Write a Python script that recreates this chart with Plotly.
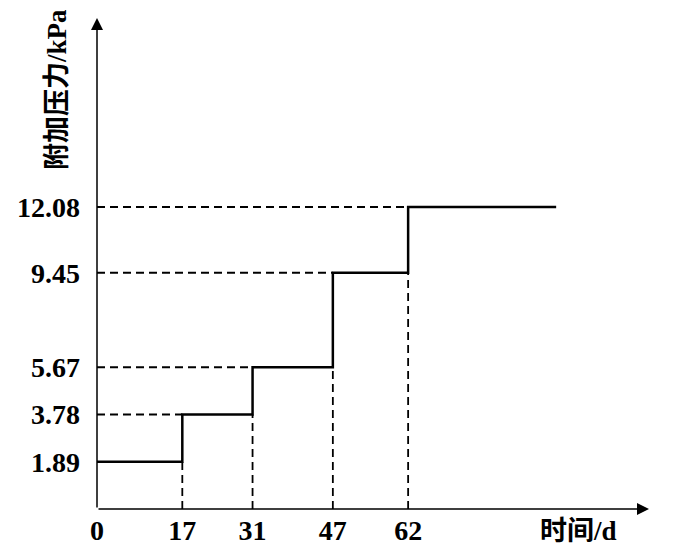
import plotly.graph_objects as go

# données
jours = [0, 17, 31, 47, 62, 91.5]
pression = [1.89, 3.78, 5.67, 9.45, 12.08, 12.08]
x_ticks = [0, 17, 31, 47, 62]
y_ticks = [1.89, 3.78, 5.67, 9.45, 12.08]

X_MAX = 110
Y_MAX = 19.64
police = "Liberation Serif, Noto Sans CJK SC, serif"
W, H = 682, 551
OFF = 8  # marge par défaut du <body> dans la page html
L, R, T, B = 97 - OFF, 33 + OFF, 18 - OFF, 42 + OFF

fig = go.Figure()

# courbe en escalier
fig.add_trace(go.Scatter(x=jours, y=pression, mode="lines",
                         line=dict(color="black", width=2.5, shape="hv"),
                         showlegend=False, hoverinfo="skip"))

# lignes de rappel en pointillés
tirets = dict(color="black", width=1.8, dash="8px,5px")
for i in range(1, len(x_ticks)):
    fig.add_shape(type="line", x0=0, x1=x_ticks[i], y0=y_ticks[i], y1=y_ticks[i], line=tirets)
    fig.add_shape(type="line", x0=x_ticks[i], x1=x_ticks[i], y0=0, y1=y_ticks[i - 1], line=tirets)

# axes avec flèches
for xa, ya in [(X_MAX, 0), (0, Y_MAX)]:
    fig.add_annotation(x=xa, y=ya, ax=0, ay=0, xref="x", yref="y", axref="x", ayref="y",
                       showarrow=True, arrowhead=2, arrowsize=1.6, arrowwidth=1.5,
                       arrowcolor="black", text="")

# titres des axes (positions en pixels -> papier)
fig.add_annotation(x=(57 - OFF - L) / (W - L - R), y=1 - (90 - OFF - T) / (H - T - B),
                   xref="paper", yref="paper", xanchor="center", yanchor="middle",
                   text="附加压力/kPa", textangle=-90, showarrow=False,
                   font=dict(family=police, size=27, color="black", weight="bold"))
fig.add_annotation(x=96, y=0, xref="x", yref="y", xanchor="center", yanchor="top", yshift=-5,
                   text="时间/d", showarrow=False,
                   font=dict(family=police, size=27, color="black", weight="bold"))

fig.update_layout(
    width=W, height=H,
    margin=dict(l=L, r=R, t=T, b=B, autoexpand=False),
    paper_bgcolor="white", plot_bgcolor="white",
    font=dict(family=police, size=28, color="black", weight="bold"),
    xaxis=dict(range=[0, X_MAX], tickvals=x_ticks, ticktext=[str(v) for v in x_ticks],
               showgrid=False, zeroline=False, showline=False, ticks="",
               ticklabelstandoff=2, automargin=False),
    yaxis=dict(range=[0, Y_MAX], tickvals=y_ticks, ticktext=["%.2f" % v for v in y_ticks],
               showgrid=False, zeroline=False, showline=False, ticks="",
               ticklabelstandoff=16, automargin=False),
)

fig.write_html("out.html")
